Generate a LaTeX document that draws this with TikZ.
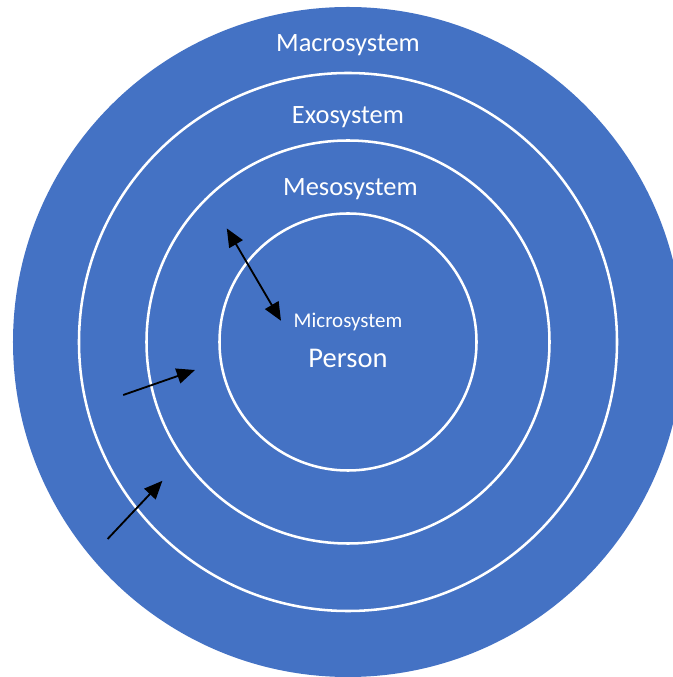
\documentclass[tikz,border=0pt]{standalone}
\usepackage{fontspec}
\setmainfont{Carlito}
\usetikzlibrary{arrows.meta}
\definecolor{ringblue}{HTML}{4472C4}
\tikzset{
	ring/.style={draw=white, line width=1.8pt},
	ringlabel/.style={text=white, anchor=base, inner sep=0pt, font=\fontsize{18.8}{22}\selectfont},
	influence/.style={black, line width=1.3pt, -{Triangle[length=13pt,width=11pt]}},
}
\begin{document}
\begin{tikzpicture}[scale=1]
				\useasboundingbox (-8.7,-8.375) rectangle (8.1,8.55);
				
				\fill[ringblue] (0,0) circle (8.375);
				\foreach \r in {6.725,5.0375,3.2125}{
					\draw[ring] (0,0) circle (\r);
				}
				
				\node[ringlabel] (macro) at (0,7.25) {Macrosystem};
				\node[ringlabel] (exo) at (0,5.45) {Exosystem};
				\node[ringlabel] (meso) at (0.06,3.65) {Mesosystem};
				\node[ringlabel, font=\fontsize{14.9}{18}\selectfont] (micro) at (0,0.35) {Microsystem};
				\node[ringlabel, font=\fontsize{20.3}{24}\selectfont] (person) at (0,-0.64) {Person};
				
				\coordinate (mesoend) at (-3.03,2.84);
				\coordinate (microend) at (-1.675,0.53);
				\coordinate (exotail) at (-5.62,-1.325);
				\coordinate (exotip) at (-3.825,-0.7);
				\coordinate (macrotail) at (-6.01,-4.925);
				\coordinate (macrotip) at (-4.64,-3.47);
				
				\draw[influence, {Triangle[length=13pt,width=11pt]}-{Triangle[length=13pt,width=11pt]}] (mesoend) -- (microend);
				\draw[influence] (exotail) -- (exotip);
				\draw[influence] (macrotail) -- (macrotip);
			\end{tikzpicture}
\end{document}
